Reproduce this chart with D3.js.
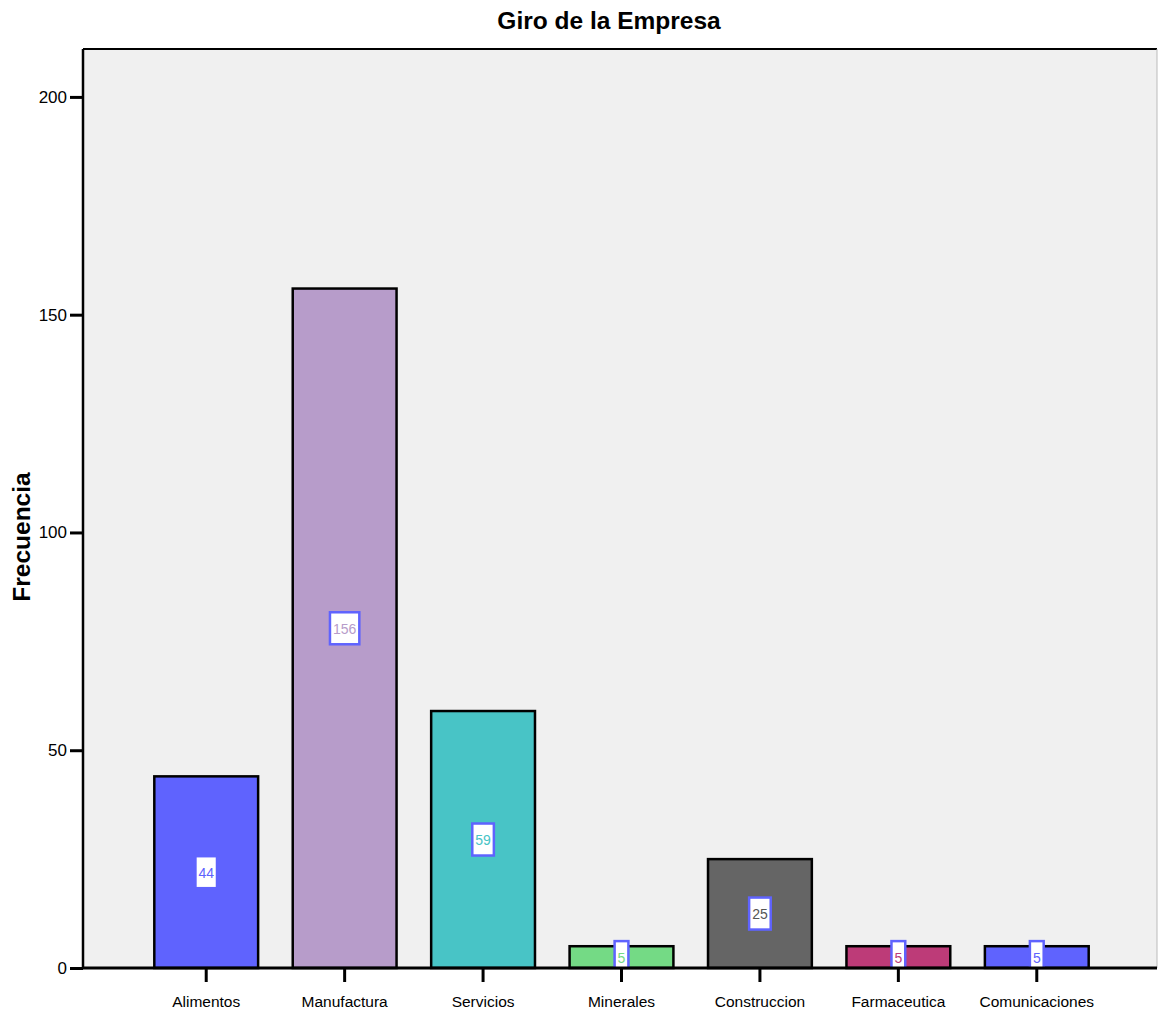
<!DOCTYPE html>
<html>
<head>
<meta charset="utf-8">
<script src="https://cdn.jsdelivr.net/npm/d3@7"></script>
<style>
  body { margin: 0; background: #fff; }
  svg { display: block; font-family: "Liberation Sans", Arial, sans-serif; }
</style>
</head>
<body>
<svg id="chart" width="1159" height="1010"></svg>
<script>
const categories = ["Alimentos", "Manufactura", "Servicios", "Minerales", "Construccion", "Farmaceutica", "Comunicaciones"];
const counts = [44, 156, 59, 5, 25, 5, 5];
const barColors = ["#5f63fe", "#b79cca", "#48c4c6", "#74da85", "#656565", "#bd3b78", "#5f63fe"];
const yTicks = [0, 50, 100, 150, 200];

const svg = d3.select("#chart");
const plot = { left: 83, top: 49, right: 1157, bottom: 968 };

const y = d3.scaleLinear().domain([0, 211]).range([plot.bottom, plot.top]);
const x = d3.scaleBand().domain(categories).range([137, 1106]).paddingInner(0.25).paddingOuter(0.125);

// plot background and frame
svg.append("rect")
  .attr("x", plot.left).attr("y", plot.top)
  .attr("width", plot.right - plot.left).attr("height", plot.bottom - plot.top)
  .attr("fill", "#f0f0f0");
svg.append("line").attr("x1", plot.left).attr("x2", plot.right).attr("y1", plot.top).attr("y2", plot.top)
  .attr("stroke", "#000").attr("stroke-width", 2);
svg.append("line").attr("x1", plot.right).attr("x2", plot.right).attr("y1", plot.top).attr("y2", plot.bottom)
  .attr("stroke", "#bbb").attr("stroke-width", 1);

// bars
const data = categories.map((c, i) => ({ cat: c, v: counts[i], color: barColors[i] }));
svg.append("g").selectAll("rect").data(data).join("rect")
  .attr("x", d => x(d.cat)).attr("width", x.bandwidth())
  .attr("y", d => y(d.v)).attr("height", d => y(0) - y(d.v))
  .attr("fill", d => d.color).attr("stroke", "#000").attr("stroke-width", 2.5);

// value labels, centred in each bar
svg.append("defs").append("clipPath").attr("id", "plotclip")
  .append("rect").attr("x", plot.left).attr("y", plot.top)
  .attr("width", plot.right - plot.left).attr("height", plot.bottom - plot.top);
const lab = svg.append("g").attr("clip-path", "url(#plotclip)").selectAll("g").data(data).join("g")
  .attr("transform", d => `translate(${x(d.cat) + x.bandwidth() / 2},${y(d.v / 2)})`);
lab.each(function(d) {
  const g = d3.select(this);
  const t = g.append("text").text(d.v)
    .attr("text-anchor", "middle").attr("dy", "0.4em")
    .attr("font-size", 14).attr("fill", d.color === "#656565" ? "#555" : d.color);
  const w = t.node().getComputedTextLength() + 6;
  g.insert("rect", "text")
    .attr("x", -w / 2).attr("y", -16).attr("width", w).attr("height", 32)
    .attr("fill", "#fff").attr("stroke", "#5f63fe").attr("stroke-width", 2.5);
});

// y axis
const yAxis = svg.append("g").attr("transform", `translate(${plot.left},0)`)
  .call(d3.axisLeft(y).tickValues(yTicks).tickSize(13).tickPadding(3));
yAxis.select(".domain").attr("stroke", "#000").attr("stroke-width", 2.5)
  .attr("d", `M0,${plot.top}V${plot.bottom}`);
yAxis.selectAll(".tick line").attr("stroke", "#000").attr("stroke-width", 3);
yAxis.selectAll(".tick text").attr("font-size", 17).attr("fill", "#000").attr("font-family", "Liberation Sans, Arial, sans-serif");

// x axis
const xAxis = svg.append("g").attr("transform", `translate(0,${plot.bottom})`)
  .call(d3.axisBottom(x).tickSize(14).tickPadding(14));
xAxis.select(".domain").attr("stroke", "#000").attr("stroke-width", 3)
  .attr("d", `M${plot.left},0H${plot.right}`);
xAxis.selectAll(".tick line").attr("stroke", "#000").attr("stroke-width", 3);
xAxis.selectAll(".tick text").attr("font-size", 15.5).attr("fill", "#000").attr("font-family", "Liberation Sans, Arial, sans-serif");

// titles
svg.append("text").text("Giro de la Empresa")
  .attr("x", 609).attr("y", 29).attr("text-anchor", "middle")
  .attr("font-size", 24.5).attr("font-weight", "bold");
svg.append("text").text("Frecuencia")
  .attr("transform", "translate(30,537) rotate(-90)").attr("text-anchor", "middle")
  .attr("font-size", 24.5).attr("font-weight", "bold");
</script>
</body>
</html>
